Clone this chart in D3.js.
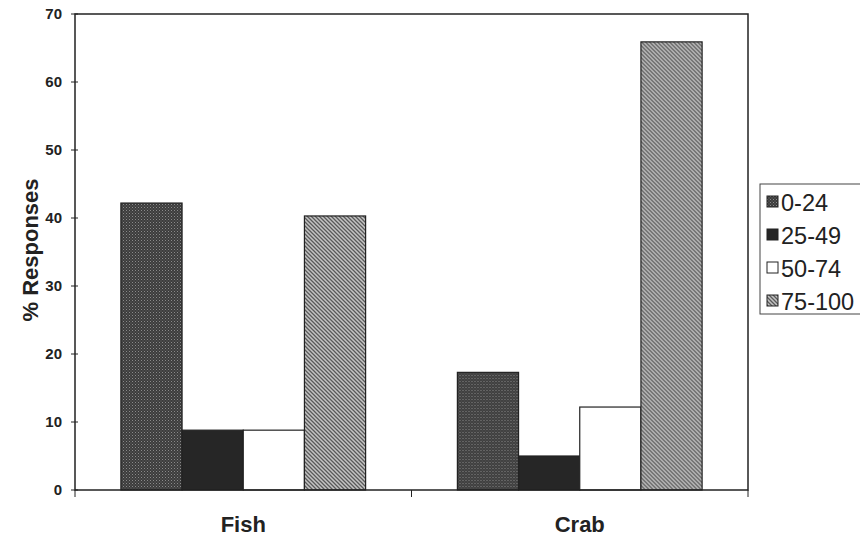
<!DOCTYPE html>
<html>
<head>
<meta charset="utf-8">
<script src="https://cdn.jsdelivr.net/npm/d3@7"></script>
<style>
  html, body { margin: 0; padding: 0; background: #fff; }
  svg { display: block; }
  text { font-family: Arial, "Liberation Sans", sans-serif; fill: #222; }
</style>
</head>
<body>
<svg id="chart" width="860" height="537"></svg>
<script>
// Survey responses by product and score range
const categories = ["Fish", "Crab"];
const seriesNames = ["0-24", "25-49", "50-74", "75-100"];
const fishValues = [42.2, 8.8, 8.8, 40.3];
const crabValues = [17.3, 5.0, 12.2, 65.9];
const yTicks = [0, 10, 20, 30, 40, 50, 60, 70];

const valuesByCategory = { Fish: fishValues, Crab: crabValues };

const svg = d3.select("#chart");
const plot = { left: 75, right: 748, top: 14, bottom: 490 };

// Fill patterns for each series
const defs = svg.append("defs");

const dots = defs.append("pattern")
  .attr("id", "pat-dots").attr("patternUnits", "userSpaceOnUse")
  .attr("width", 3).attr("height", 3);
dots.append("rect").attr("width", 3).attr("height", 3).attr("fill", "#3c3c3c");
dots.append("rect").attr("x", 0).attr("y", 0).attr("width", 1).attr("height", 1).attr("fill", "#8a8a8a");
dots.append("rect").attr("x", 1.5).attr("y", 1.5).attr("width", 1).attr("height", 1).attr("fill", "#6a6a6a");

const hatch = defs.append("pattern")
  .attr("id", "pat-hatch").attr("patternUnits", "userSpaceOnUse")
  .attr("width", 4).attr("height", 4);
hatch.append("rect").attr("width", 4).attr("height", 4).attr("fill", "#c4c4c4");
hatch.append("path").attr("d", "M-1,-1 L5,5 M-1,3 L1,5 M3,-1 L5,1")
  .attr("stroke", "#5a5a5a").attr("stroke-width", 1.3);

const fills = ["url(#pat-dots)", "#262626", "#ffffff", "url(#pat-hatch)"];

// Scales
const x0 = d3.scaleBand().domain(categories).range([plot.left, plot.right]).padding(0);
const x1 = d3.scaleBand().domain(seriesNames).range([0, x0.bandwidth()])
  .paddingInner(0).paddingOuter(0.75);
const y = d3.scaleLinear().domain([0, 70]).range([plot.bottom, plot.top]);

// Bars
const groups = svg.append("g").selectAll("g")
  .data(categories).join("g")
  .attr("transform", d => `translate(${x0(d)},0)`);

groups.selectAll("rect")
  .data(c => valuesByCategory[c].map((v, i) => ({ key: seriesNames[i], value: v, i })))
  .join("rect")
  .attr("x", d => x1(d.key))
  .attr("y", d => y(d.value))
  .attr("width", x1.bandwidth())
  .attr("height", d => y(0) - y(d.value))
  .attr("fill", d => fills[d.i])
  .attr("stroke", "#222")
  .attr("stroke-width", 1.2);

// Plot frame
svg.append("rect")
  .attr("x", plot.left).attr("y", plot.top)
  .attr("width", plot.right - plot.left).attr("height", plot.bottom - plot.top)
  .attr("fill", "none").attr("stroke", "#222").attr("stroke-width", 1.5);

// Y axis
const yAxis = svg.append("g")
  .attr("transform", `translate(${plot.left},0)`)
  .call(d3.axisLeft(y).tickValues(yTicks).tickSize(0).tickPadding(13));
yAxis.select(".domain").remove();
yAxis.selectAll("text")
  .style("font-size", "15px").style("font-weight", "bold").attr("fill", "#2a2a2a");
// Ticks crossing the axis
svg.append("g").selectAll("line").data(yTicks).join("line")
  .attr("x1", plot.left - 4).attr("x2", plot.left + 3)
  .attr("y1", d => y(d)).attr("y2", d => y(d))
  .attr("stroke", "#222").attr("stroke-width", 1);

// X axis: tick marks on category boundaries, labels centred on groups
const boundaries = [plot.left, x0("Crab"), plot.right];
svg.append("g").selectAll("line").data(boundaries).join("line")
  .attr("x1", d => d).attr("x2", d => d)
  .attr("y1", plot.bottom).attr("y2", plot.bottom + 7)
  .attr("stroke", "#222").attr("stroke-width", 1);

svg.append("g").selectAll("text").data(categories).join("text")
  .attr("x", d => x0(d) + x0.bandwidth() / 2)
  .attr("y", 532)
  .attr("text-anchor", "middle")
  .style("font-size", "22px").style("font-weight", "bold")
  .text(d => d);

// Y axis title
svg.append("text")
  .attr("transform", "translate(38,250) rotate(-90)")
  .attr("text-anchor", "middle")
  .style("font-size", "22px").style("font-weight", "bold")
  .text("% Responses");

// Legend
const legend = svg.append("g");
legend.append("rect")
  .attr("x", 760).attr("y", 184).attr("width", 110).attr("height", 130)
  .attr("fill", "#fff").attr("stroke", "#444").attr("stroke-width", 1);

const rowY = d3.scalePoint().domain(seriesNames).range([202, 301]);
const items = legend.selectAll("g.item").data(seriesNames).join("g")
  .attr("class", "item")
  .attr("transform", d => `translate(767,${rowY(d)})`);
items.append("rect")
  .attr("x", 0).attr("y", -6).attr("width", 11).attr("height", 11)
  .attr("fill", (d, i) => fills[i])
  .attr("stroke", "#222").attr("stroke-width", 1);
items.append("text")
  .attr("x", 14).attr("y", 8.5)
  .style("font-size", "23.5px")
  .text(d => d);
</script>
</body>
</html>
